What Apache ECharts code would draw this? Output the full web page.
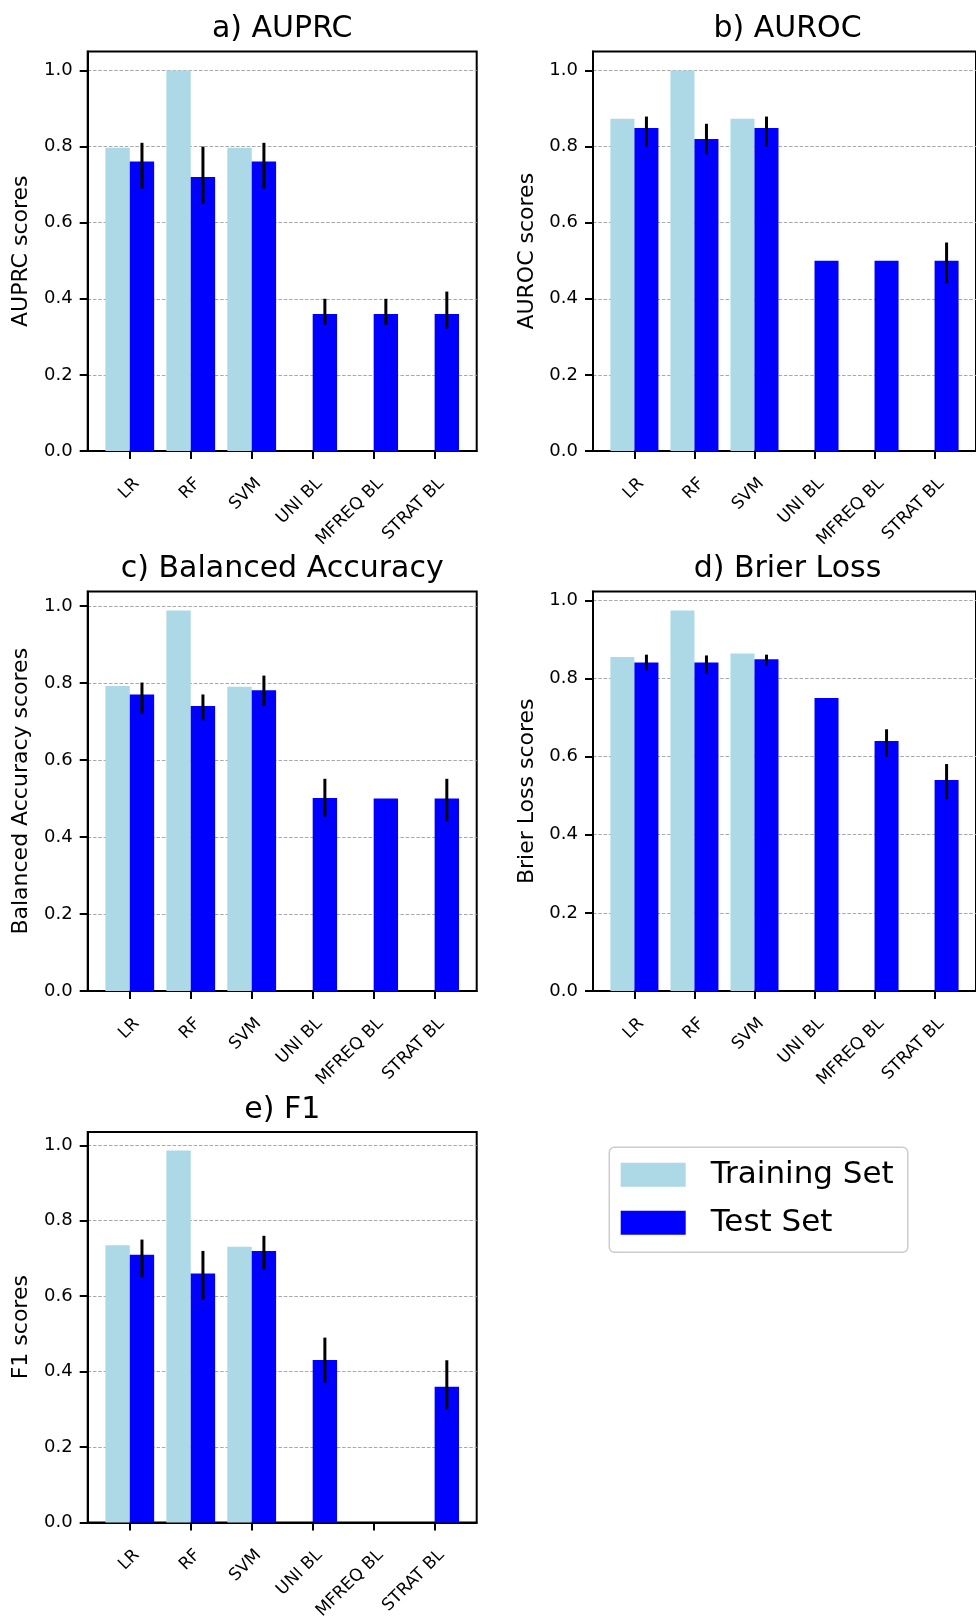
<!DOCTYPE html>
<html>
<head>
<meta charset="utf-8">
<script src="https://cdn.jsdelivr.net/npm/echarts@6/dist/echarts.min.js"></script>
<style>
html,body{margin:0;padding:0;background:#fff;}
#chart{width:976px;height:1622px;}
</style>
</head>
<body>
<div id="chart"></div>
<script>
// ---------- data ----------
const categories = ['LR', 'RF', 'SVM', 'UNI BL', 'MFREQ BL', 'STRAT BL'];
const yTicks = [0, 0.2, 0.4, 0.6, 0.8, 1.0];
const panelTitles = ['a) AUPRC', 'b) AUROC', 'c) Balanced Accuracy', 'd) Brier Loss', 'e) F1'];
const yNames = ['AUPRC scores', 'AUROC scores', 'Balanced Accuracy scores', 'Brier Loss scores', 'F1 scores'];
const legendNames = ['Training Set', 'Test Set'];

const auprcTrain   = [0.797, 1.000, 0.797, 0, 0, 0];
const auprcTest    = [0.761, 0.720, 0.761, 0.360, 0.360, 0.360];
const auprcErrLow  = [0.690, 0.650, 0.690, 0.332, 0.332, 0.322];
const auprcErrHigh = [0.810, 0.800, 0.810, 0.400, 0.400, 0.419];

const aurocTrain   = [0.873, 1.000, 0.873, 0, 0, 0];
const aurocTest    = [0.849, 0.820, 0.849, 0.500, 0.500, 0.500];
const aurocErrLow  = [0.800, 0.780, 0.800, null, null, 0.441];
const aurocErrHigh = [0.879, 0.860, 0.879, null, null, 0.548];

const balAccTrain   = [0.792, 0.988, 0.790, 0, 0, 0];
const balAccTest    = [0.770, 0.740, 0.781, 0.501, 0.500, 0.500];
const balAccErrLow  = [0.720, 0.703, 0.741, 0.453, null, 0.441];
const balAccErrHigh = [0.801, 0.770, 0.819, 0.551, null, 0.551];

const brierTrain   = [0.855, 0.974, 0.864, 0, 0, 0];
const brierTest    = [0.841, 0.841, 0.849, 0.750, 0.640, 0.540];
const brierErrLow  = [0.821, 0.812, 0.832, null, 0.600, 0.491];
const brierErrHigh = [0.861, 0.859, 0.861, null, 0.670, 0.581];

const f1Train   = [0.735, 0.986, 0.731, 0, 0, 0];
const f1Test    = [0.710, 0.660, 0.720, 0.431, 0, 0.360];
const f1ErrLow  = [0.650, 0.591, 0.671, 0.371, null, 0.300];
const f1ErrHigh = [0.750, 0.720, 0.760, 0.490, null, 0.430];

// ---------- layout / style ----------
const FONT = 'DejaVu Sans';
const TRAIN_COLOR = '#ADD8E6';
const TEST_COLOR = '#0000FF';
const PH = 399.5;
const panels = [
  {train: auprcTrain,  test: auprcTest,  lo: auprcErrLow,  hi: auprcErrHigh,  grid: {left: 87.7, top: 51.5, width: 389, height: PH}, titleTop: 14},
  {train: aurocTrain,  test: aurocTest,  lo: aurocErrLow,  hi: aurocErrHigh,  grid: {left: 593,  top: 51.5, width: 389, height: PH}, titleTop: 14},
  {train: balAccTrain, test: balAccTest, lo: balAccErrLow, hi: balAccErrHigh, grid: {left: 87.7, top: 591.5, width: 389, height: PH}, titleTop: 554},
  {train: brierTrain,  test: brierTest,  lo: brierErrLow,  hi: brierErrHigh,  grid: {left: 593,  top: 591.5, width: 389, height: PH}, titleTop: 554},
  {train: f1Train,     test: f1Test,     lo: f1ErrLow,     hi: f1ErrHigh,     grid: {left: 87.7, top: 1132,  width: 389, height: PH}, titleTop: 1095.5}
];

const X_MIN = -0.69, X_MAX = 5.69;
const BAR_W = 0.4;
const LABEL_SHIFT = 0.113;

function barRender(off0, off1, color) {
  return function (params, api) {
    const i = api.value(0), v = api.value(1);
    if (!v) return null;
    const p0 = api.coord([i + off0, v]);
    const p1 = api.coord([i + off1, 0]);
    return {type: 'rect', shape: {x: p0[0], y: p0[1], width: p1[0] - p0[0], height: p1[1] - p0[1]}, style: {fill: color}};
  };
}
function errRender(params, api) {
  const i = api.value(0), lo = api.value(1), hi = api.value(2);
  const a = api.coord([i + BAR_W / 2, lo]);
  const b = api.coord([i + BAR_W / 2, hi]);
  return {type: 'line', shape: {x1: a[0], y1: a[1], x2: b[0], y2: b[1]}, style: {stroke: '#000', lineWidth: 3}};
}

const grids = [], xAxes = [], yAxes = [], series = [], titles = [];
panels.forEach((p, k) => {
  grids.push(Object.assign({show: true, borderColor: '#000', borderWidth: 2, backgroundColor: 'transparent'}, p.grid));
  let m = 0;
  p.train.concat(p.test, p.hi).forEach(v => { if (v != null && v > m) m = v; });
  const yMax = m * 1.05;
  xAxes.push({
    gridIndex: k, type: 'value', min: X_MIN, max: X_MAX,
    axisLine: {show: true, onZero: false, lineStyle: {color: '#000', width: 2}},
    axisTick: {show: true, length: 8, lineStyle: {color: '#000', width: 2}, customValues: categories.map((c, i) => i)},
    axisLabel: {show: true, rotate: 45, margin: 30, color: '#000', fontSize: 17, fontFamily: FONT,
      customValues: categories.map((c, i) => i + LABEL_SHIFT),
      formatter: v => categories[Math.round(v)]},
    splitLine: {show: false}
  });
  yAxes.push({
    gridIndex: k, type: 'value', min: 0, max: yMax,
    name: yNames[k], nameLocation: 'middle', nameGap: 55,
    nameTextStyle: {color: '#000', fontSize: 22, fontFamily: FONT},
    axisLine: {show: true, onZero: false, lineStyle: {color: '#000', width: 2}},
    axisTick: {show: true, length: 8, lineStyle: {color: '#000', width: 2}, customValues: yTicks},
    axisLabel: {show: true, margin: 15, color: '#000', fontSize: 18, fontFamily: FONT, customValues: yTicks,
      formatter: v => v.toFixed(1)},
    splitLine: {show: true, lineStyle: {color: '#a8a8a8', width: 1.2, type: [3.5, 1.8]}}
  });
  const cx = p.grid.left + p.grid.width / 2;
  titles.push({text: panelTitles[k], left: cx, top: p.titleTop, textAlign: 'center', padding: 0,
    textStyle: {color: '#000', fontSize: 30, fontWeight: 'normal', fontFamily: FONT}});
  series.push({
    name: legendNames[0], type: 'custom', xAxisIndex: k, yAxisIndex: k, z: 2,
    itemStyle: {color: TRAIN_COLOR}, encode: {x: 0, y: 1},
    renderItem: barRender(-BAR_W, 0, TRAIN_COLOR),
    data: p.train.map((v, i) => [i, v])
  });
  series.push({
    name: legendNames[1], type: 'custom', xAxisIndex: k, yAxisIndex: k, z: 2,
    itemStyle: {color: TEST_COLOR}, encode: {x: 0, y: 1},
    renderItem: barRender(0, BAR_W, TEST_COLOR),
    data: p.test.map((v, i) => [i, v])
  });
  const errData = [];
  p.lo.forEach((lo, i) => { if (lo != null && p.hi[i] != null) errData.push([i, lo, p.hi[i]]); });
  series.push({
    name: 'err' + k, type: 'custom', xAxisIndex: k, yAxisIndex: k, z: 3,
    encode: {x: 0, y: [1, 2]}, renderItem: errRender, data: errData
  });
});

const chart = echarts.init(document.getElementById('chart'), null, {renderer: 'canvas'});
chart.setOption({
  animation: false,
  backgroundColor: '#fff',
  title: titles,
  grid: grids,
  xAxis: xAxes,
  yAxis: yAxes,
  legend: {
    show: true, orient: 'vertical', left: 609.3, top: 1147.3,
    data: [
      {name: legendNames[0], itemStyle: {color: TRAIN_COLOR}},
      {name: legendNames[1], itemStyle: {color: TEST_COLOR}}
    ],
    icon: 'rect', itemWidth: 65, itemHeight: 24, itemGap: 17,
    padding: [12, 14, 14, 11.4],
    borderColor: '#cccccc', borderWidth: 1.5, borderRadius: 5, backgroundColor: '#fff',
    selectedMode: false,
    textStyle: {color: '#000', fontSize: 31, fontFamily: FONT, padding: [0, 0, 0, 20]}
  },
  series: series
});
</script>
</body>
</html>
